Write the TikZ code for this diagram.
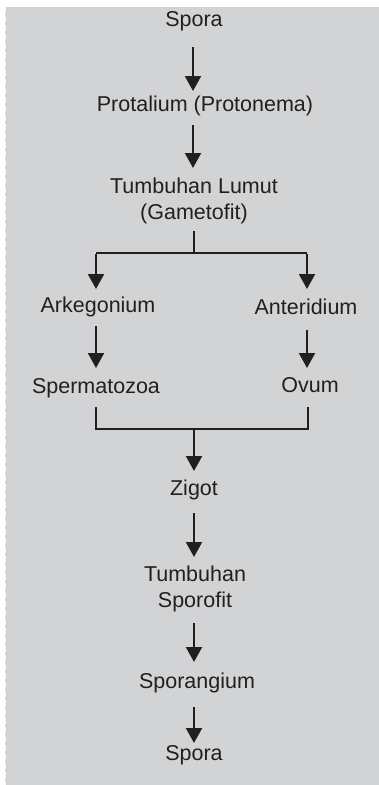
\documentclass[tikz,border=0pt]{standalone}
\usepackage{fontspec}
\setmainfont{Liberation Sans}
\usetikzlibrary{arrows.meta}
\definecolor{bg}{HTML}{D1D3D4}
\definecolor{ink}{HTML}{231F20}
\begin{document}
\begin{tikzpicture}[x=1pt,y=-1pt,
  lbl/.style={text=ink,font=\fontsize{21.5}{26}\selectfont,inner sep=0pt,align=center},
  flow/.style={draw=ink,line width=2.2pt,-{Triangle[width=16pt,length=15pt]}},
  seg/.style={draw=ink,line width=2.2pt}]
\useasboundingbox (0,0) rectangle (379,785);
\fill[bg] (5,7) rectangle (379,785);
\draw[white!85!bg,line width=0.8pt,dash pattern=on 6pt off 3pt] (5.4,7) -- (5.4,785);
% nodes
\node[lbl] (spora1) at (194,21) {Spora};
\node[lbl] (prot) at (205,106) {Protalium (Protonema)};
\node[lbl] (lumut) at (194,201) {Tumbuhan Lumut\\(Gametofit)};
\node[lbl] (ark) at (98,307) {Arkegonium};
\node[lbl] (ant) at (306,307) {Anteridium};
\node[lbl] (sperm) at (96,388) {Spermatozoa};
\node[lbl] (ovum) at (310,385) {Ovum};
\node[lbl] (zigot) at (194,490) {Zigot};
\node[lbl] (sporo) at (195,589) {Tumbuhan\\Sporofit};
\node[lbl] (sporang) at (197,683) {Sporangium};
\node[lbl] (spora2) at (194,755) {Spora};
% coordinates
\coordinate (a1s) at (193,47); \coordinate (a1e) at (193,91);
\coordinate (a2s) at (193,125); \coordinate (a2e) at (193,168);
\coordinate (b0) at (194,231); \coordinate (b1) at (194,253);
\coordinate (bl) at (96,253); \coordinate (br) at (307,253);
\coordinate (blt) at (96,289); \coordinate (brt) at (307,289);
\coordinate (l1s) at (96,326); \coordinate (l1e) at (96,368);
\coordinate (r1s) at (307,330); \coordinate (r1e) at (307,368);
\coordinate (ml) at (96,407); \coordinate (mr) at (308,407);
\coordinate (mlb) at (96,429); \coordinate (mrb) at (308,429);
\coordinate (mc) at (194,429); \coordinate (mce) at (194,471);
\coordinate (z1s) at (194,513); \coordinate (z1e) at (194,557);
\coordinate (s1s) at (194,623); \coordinate (s1e) at (194,662);
\coordinate (s2s) at (194,707); \coordinate (s2e) at (194,743);
% connectors
\draw[flow] (a1s) -- (a1e);
\draw[flow] (a2s) -- (a2e);
\draw[seg] (b0) -- (b1);
\draw[seg] (bl) -- (br);
\draw[flow] ([yshift=-1.1pt]bl) -- (blt);
\draw[flow] ([yshift=-1.1pt]br) -- (brt);
\draw[flow] (l1s) -- (l1e);
\draw[flow] (r1s) -- (r1e);
\draw[seg] (ml) -- (mlb) -- (mrb) -- (mr);
\draw[flow] (mc) -- (mce);
\draw[flow] (z1s) -- (z1e);
\draw[flow] (s1s) -- (s1e);
\draw[flow] (s2s) -- (s2e);
\end{tikzpicture}
\end{document}
